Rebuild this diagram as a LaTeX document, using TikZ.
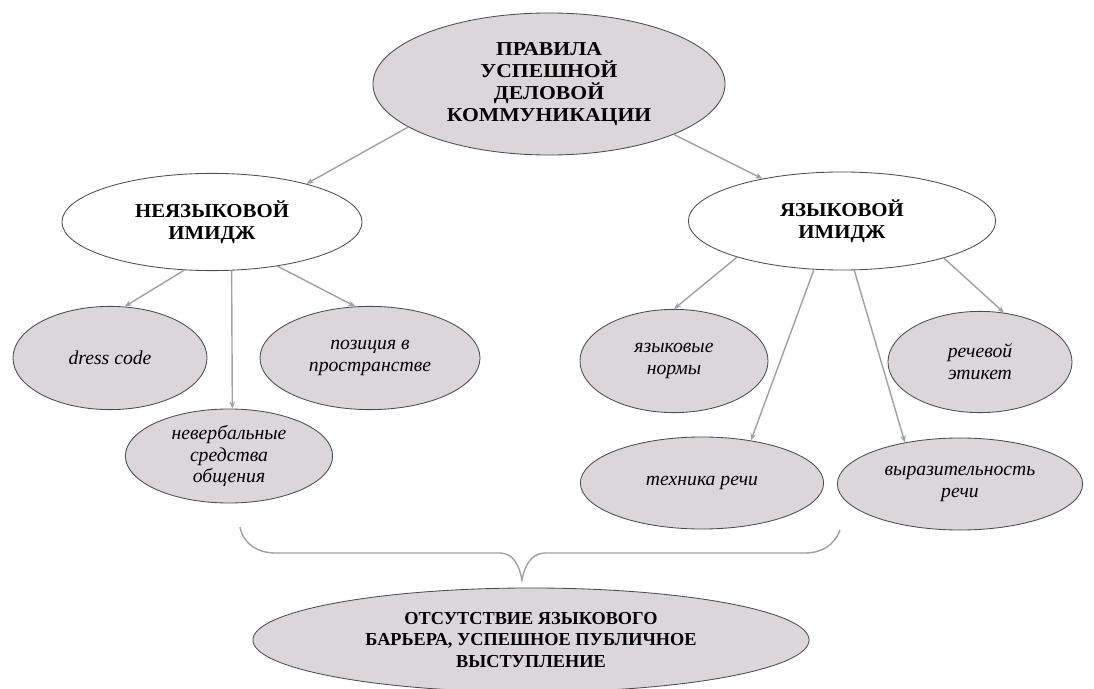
\documentclass[tikz,border=0pt]{standalone}
\usepackage{fontspec}
\setmainfont{Liberation Serif}
\newfontfamily\widecaps[FakeStretch=1.1]{Liberation Serif}
\newfontfamily\midcaps[FakeStretch=1.06]{Liberation Serif}
\usetikzlibrary{shapes.geometric,arrows.meta}
\definecolor{ovalfill}{RGB}{218,214,218}
\definecolor{linkgray}{RGB}{160,160,160}
\tikzset{oval/.style={draw=black!70,ellipse,inner sep=0pt,align=center,line width=0.6pt},
  grayoval/.style={oval,fill=ovalfill},
  titletext/.style={font=\widecaps\bfseries\fontsize{14}{15.5}\selectfont},
  capstext/.style={font=\bfseries\fontsize{13}{15}\selectfont},
  bigtext/.style={font=\midcaps\bfseries\fontsize{14}{15.5}\selectfont},
  ittext/.style={font=\fontsize{14}{15.5}\selectfont\itshape},
  link/.style={draw=linkgray,line width=1pt,-{Stealth[length=5pt,width=4pt]}}}

\begin{document}
\begin{tikzpicture}[x=0.025cm,y=-0.025cm]
\useasboundingbox (0,0) rectangle (1094,689);
\node[grayoval,titletext,minimum width=8.8cm,minimum height=3.55cm] (rules) at (549,84) {ПРАВИЛА\\УСПЕШНОЙ\\ДЕЛОВОЙ\\КОММУНИКАЦИИ};
\node[oval,bigtext,fill=white,minimum width=7.5cm,minimum height=2.43cm] (nonlang) at (212,222) {НЕЯЗЫКОВОЙ\\ИМИДЖ};
\node[oval,bigtext,fill=white,minimum width=7.68cm,minimum height=2.45cm] (lang) at (842,221) {ЯЗЫКОВОЙ\\ИМИДЖ};
\node[grayoval,ittext,minimum width=4.85cm,minimum height=2.58cm] (dress) at (110,358) {dress code};
\node[grayoval,ittext,minimum width=5.5cm,minimum height=2.58cm] (space) at (370,358) {позиция в\\пространстве};
\node[grayoval,ittext,minimum width=5.18cm,minimum height=2.35cm] (nonverb) at (229,456) {невербальные\\средства\\общения};
\node[grayoval,ittext,minimum width=4.7cm,minimum height=2.58cm] (norms) at (674,361) {языковые\\нормы};
\node[grayoval,ittext,minimum width=4.6cm,minimum height=2.53cm] (etiq) at (980,362) {речевой\\этикет};
\node[grayoval,ittext,minimum width=6.08cm,minimum height=2.3cm] (tech) at (702,483) {техника речи};
\node[grayoval,ittext,minimum width=6.13cm,minimum height=2.3cm] (expr) at (960,484) {выразительность\\речи};
\node[grayoval,capstext,minimum width=13.9cm,minimum height=2.6cm] (result) at (531,640) {ОТСУТСТВИЕ ЯЗЫКОВОГО\\БАРЬЕРА, УСПЕШНОЕ ПУБЛИЧНОЕ\\ВЫСТУПЛЕНИЕ};
% arrows
\draw[link] (rules.197) -- (nonlang.22);
\draw[link] (rules.338) -- (lang.152);
\draw[link] (nonlang.240) -- (dress.74);
\draw[link] (nonlang.292) -- (nonverb.86);
\draw[link] (nonlang.326) -- (space.106);
\draw[link] (lang.199) -- (norms.90);
\draw[link] (lang.240) -- (tech.41);
\draw[link] (lang.284) -- (expr.143);
\draw[link] (lang.340) -- (etiq.64);
% brace
\draw[linkgray,line width=1pt] (240,527) to[out=-80,in=180] (275,553) -- (500,553) to[out=0,in=100] (522,580)
  to[out=80,in=180] (545,553) -- (805,553) to[out=0,in=-110] (840,530);
\end{tikzpicture}
\end{document}
